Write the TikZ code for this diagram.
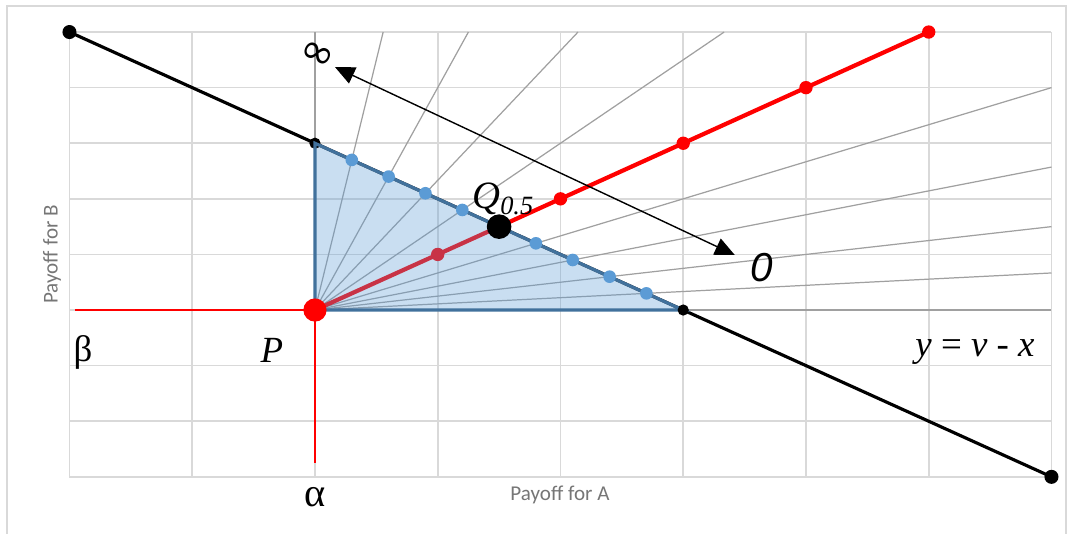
\documentclass[tikz,border=0pt]{standalone}
\usepackage{fontspec}
\setmainfont{Liberation Serif}
\newfontfamily\axisfont{Carlito}
\newfontfamily\arialfont{Liberation Sans}
\newfontfamily\symbfont{DejaVu Sans}
\usepackage{xcolor}
\usetikzlibrary{positioning}
\usetikzlibrary{arrows.meta}

\definecolor{gridgray}{RGB}{217,217,217}
\definecolor{raygray}{RGB}{160,160,160}
\definecolor{edgeblue}{RGB}{65,113,156}
\definecolor{dotblue}{RGB}{91,155,213}
\definecolor{axisgray}{RGB}{118,118,118}

\tikzset{
    gridline/.style={gridgray, line width=0.45pt},
    ray/.style={raygray, line width=0.35pt},
    redaxis/.style={red, line width=0.5pt},
    axislabel/.style={font=\axisfont\fontsize{6}{7}\selectfont, text=axisgray, inner sep=0pt},
    biglabel/.style={font=\fontsize{10.5}{12}\selectfont, inner sep=0pt},
    bigtip/.tip={Triangle[length=5.6pt, width=5pt]}
}

\begin{document}
\begin{tikzpicture}[x=1.2275cm, y=0.556cm]
            \useasboundingbox (-2.566,-4.011) rectangle (6.159,5.576);
            \draw[gridgray, line width=0.6pt] (-2.509,-4.3) rectangle (6.118,5.468);

            % grid
            \foreach \i in {-2,...,6}
                \draw[gridline] (\i,-3) -- (\i,5);
            \foreach \j in {-3,...,5}
                \draw[gridline] (-2,\j) -- (6,\j);

            \coordinate (P) at (0,0);
            \coordinate (top) at (0,3);
            \coordinate (right) at (3,0);
            \coordinate (endA) at (-2,5);
            \coordinate (endB) at (6,-3);
            \coordinate (Q) at (1.5,1.5);
            \coordinate (redEnd) at (5,5);

            % rays from P
            \draw[ray] (P) -- (0,5);
            \draw[ray] (P) -- (6,0);
            \foreach \t in {0.3,0.6,0.9,1.2,1.8,2.1,2.4,2.7}{
                \pgfmathsetmacro{\s}{min(5/(3-\t),6/\t)}
                \draw[ray] (P) -- ({\s*\t},{\s*(3-\t)});
            }

            \draw[redaxis] (-1.955,0) -- (P) -- (0,-2.75);

            \draw[line width=0.9pt] (endA) -- (endB);

            \draw[red, line width=1.2pt] (P) -- (redEnd);
            \foreach \k in {1,...,5}
                \fill[red] (\k,\k) circle (1.9pt);

            % the triangle
            \fill[dotblue, opacity=0.33] (P) -- (top) -- (right) -- cycle;
            \fill (top) circle (1.6pt);
            \draw[edgeblue, line width=0.9pt] (P) -- (top) -- (right) -- cycle;
            \fill (right) circle (1.6pt);
            \foreach \t in {0.3,0.6,0.9,1.2,1.8,2.1,2.4,2.7}
                \fill[dotblue] (\t,3-\t) circle (1.8pt);

            \fill (endA) circle (2pt);
            \fill (endB) circle (2pt);
            \fill (Q) circle (3.5pt);
            \fill[red] (P) circle (3.3pt);

            \coordinate (arrInf) at (0.163,4.37);
            \coordinate (arrZero) at (3.42,0.99);
            \draw[bigtip-bigtip, line width=0.4pt] (arrInf) -- (arrZero);

            \node[font=\symbfont\fontsize{12}{13}\selectfont, rotate=-25, inner sep=0pt] (lblInf) at (0.016,4.57) {∞};
            \node[font=\arialfont\itshape\fontsize{11.5}{12}\selectfont, inner sep=0pt] (lblZero) at (3.64,0.755) {0};
            \node[font=\fontsize{11}{12}\selectfont, inner sep=0pt] (lblQ) at (1.53,2.0) {\textit{Q}\raisebox{-0.35ex}{\fontsize{7.5}{8}\selectfont\textit{0.5}}};
            \node[biglabel] (lblP) at (-0.35,-0.72) {\textit{P}};
            \node[biglabel] (lblBeta) at (-1.89,-0.755) {β};
            \node[font=\fontsize{11.5}{12}\selectfont, inner sep=0pt] (lblAlpha) at (0,-3.36) {α};
            \node[biglabel] (lblLine) at (5.377,-0.755) {\textit{y} = \textit{v} - \textit{x}};
            \node[axislabel] (lblA) at (1.996,-3.33) {Payoff for A};
            \node[axislabel, rotate=90] (lblB) at (-2.143,1.0) {Payoff for B};
    \end{tikzpicture}
\end{document}
